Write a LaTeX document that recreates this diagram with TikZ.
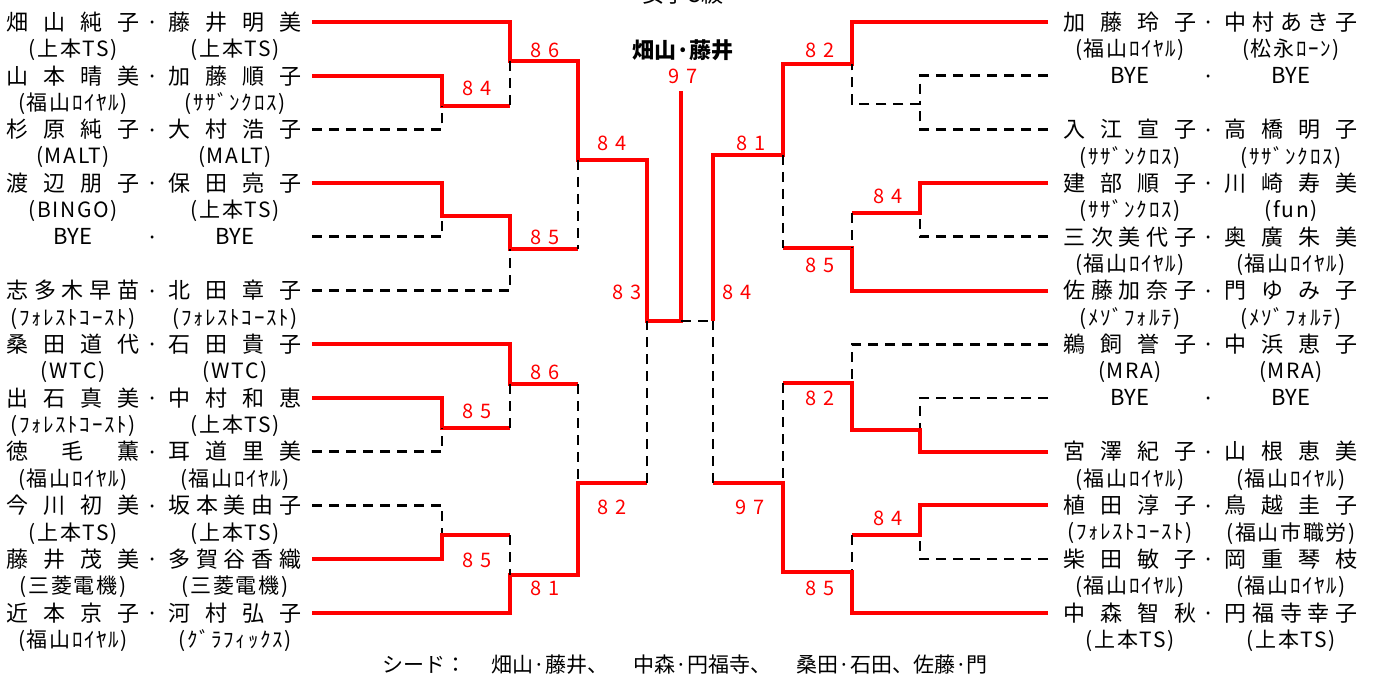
\documentclass[tikz,border=0pt]{standalone}
\usepackage{fontspec}
\setmainfont{Noto Sans CJK JP}
\newcommand\nmfont{\fontsize{22}{24}\selectfont}
\newcommand\affont{\fontsize{21}{23}\selectfont\addfontfeature{LetterSpace=8}}
\newcommand\scfont{\fontsize{20}{22}\selectfont}
\newcommand\spread[1]{\makebox[133pt][s]{#1}}

\begin{document}
\begin{tikzpicture}[x=1pt,y=-1pt,
  nm/.style={font=\nmfont,inner sep=0pt},
  sepdot/.style={font=\nmfont,inner sep=0pt,yshift=-4pt},
  aff/.style={font=\affont,inner sep=0pt},
  sc/.style={font=\scfont,text=red,inner sep=0pt},
  win/.style={red,line width=4pt},
  lose/.style={black,line width=2.8pt,dash pattern=on 10pt off 7pt}]
\useasboundingbox (0,0) rectangle (1375,679);
% 見出し
\node[nm] (title) at (683,-6) {女子C級};
\node[nm,font=\nmfont\bfseries] (champ) at (683,50) {畑山·藤井};
% 左ブロック
\foreach \r/\na/\nb/\ca/\cb in {
  1/畑 山 純 子/藤 井 明 美/(上本TS)/(上本TS),
  2/山 本 晴 美/加 藤 順 子/(福山ﾛｲﾔﾙ)/(ｻｻﾞﾝｸﾛｽ),
  3/杉 原 純 子/大 村 浩 子/(MALT)/(MALT),
  4/渡 辺 朋 子/保 田 亮 子/(BINGO)/(上本TS),
  6/志 多 木 早 苗/北 田 章 子/(ﾌｫﾚｽﾄｺｰｽﾄ)/(ﾌｫﾚｽﾄｺｰｽﾄ),
  7/桑 田 道 代/石 田 貴 子/(WTC)/(WTC),
  8/出 石 真 美/中 村 和 恵/(ﾌｫﾚｽﾄｺｰｽﾄ)/(上本TS),
  9/徳 毛 薫/耳 道 里 美/(福山ﾛｲﾔﾙ)/(福山ﾛｲﾔﾙ),
  10/今 川 初 美/坂 本 美 由 子/(上本TS)/(上本TS),
  11/藤 井 茂 美/多 賀 谷 香 織/(三菱電機)/(三菱電機),
  12/近 本 京 子/河 村 弘 子/(福山ﾛｲﾔﾙ)/(ｸﾞﾗﾌｨｯｸｽ)}{
  \pgfmathsetmacro\yy{22+53.7*(\r-1)}
  \node[nm] (la\r) at (73,\yy) {\spread{\na}};
  \node[sepdot] (ldot\r) at (153,\yy) {·};
  \node[nm] (lb\r) at (235,\yy) {\spread{\nb}};
  \node[aff] (lca\r) at (73,\yy+28) {\ca};
  \node[aff] (lcb\r) at (235,\yy+28) {\cb};
}
\node[nm] (la5) at (73,236.8) {BYE};
\node[sepdot] (ldot5) at (153,236.8) {·};
\node[nm] (lb5) at (235,236.8) {BYE};
% 右ブロック
\foreach \r/\na/\nb/\ca/\cb in {
  1/加 藤 玲 子/中 村 あ き 子/(福山ﾛｲﾔﾙ)/(松永ﾛｰﾝ),
  3/入 江 宣 子/高 橋 明 子/(ｻｻﾞﾝｸﾛｽ)/(ｻｻﾞﾝｸﾛｽ),
  4/建 部 順 子/川 崎 寿 美/(ｻｻﾞﾝｸﾛｽ)/(fun),
  5/三 次 美 代 子/奥 廣 朱 美/(福山ﾛｲﾔﾙ)/(福山ﾛｲﾔﾙ),
  6/佐 藤 加 奈 子/門 ゆ み 子/(ﾒｿﾞﾌｫﾙﾃ)/(ﾒｿﾞﾌｫﾙﾃ),
  7/鵜 飼 誉 子/中 浜 恵 子/(MRA)/(MRA),
  9/宮 澤 紀 子/山 根 恵 美/(福山ﾛｲﾔﾙ)/(福山ﾛｲﾔﾙ),
  10/植 田 淳 子/鳥 越 圭 子/(ﾌｫﾚｽﾄｺｰｽﾄ)/(福山市職労),
  11/柴 田 敏 子/岡 重 琴 枝/(福山ﾛｲﾔﾙ)/(福山ﾛｲﾔﾙ),
  12/中 森 智 秋/円 福 寺 幸 子/(上本TS)/(上本TS)}{
  \pgfmathsetmacro\yy{22+53.7*(\r-1)}
  \node[nm] (ra\r) at (1130,\yy) {\spread{\na}};
  \node[sepdot] (rdot\r) at (1209,\yy) {·};
  \node[nm] (rb\r) at (1291,\yy) {\spread{\nb}};
  \node[aff] (rca\r) at (1130,\yy+28) {\ca};
  \node[aff] (rcb\r) at (1291,\yy+28) {\cb};
}
\foreach \r in {2,8}{
  \pgfmathsetmacro\yy{22+53.7*(\r-1)}
  \node[nm] (ra\r) at (1130,\yy) {BYE};
  \node[sepdot] (rdot\r) at (1209,\yy) {·};
  \node[nm] (rb\r) at (1291,\yy) {BYE};
}
% 線の起点
\foreach \r in {1,...,12}{
  \pgfmathsetmacro\yy{22+53.7*(\r-1)}
  \coordinate (L\r) at (312,\yy);
  \coordinate (R\r) at (1048,\yy);
}
% 左上
\draw[win] (L1) -| (510,61) -- (578,61) -- (578,160) -- (647,160) -- (647,321) -- (681,321) -- (681,91);
\draw[win] (L2) -| (442,106) -- (510,106);
\draw[lose] (L3) -| (442,106);
\draw[lose] (510,61) -- (510,106);
\draw[win] (L4) -| (442,216) -- (510,216) -- (510,249) -- (578,249);
\draw[lose] (L5) -| (442,216);
\draw[lose] (L6) -| (510,249);
\draw[lose] (578,160) -- (578,249);
% 左下
\draw[win] (L7) -| (510,384) -- (578,384);
\draw[win] (L8) -| (442,428) -- (510,428);
\draw[lose] (L9) -| (442,428);
\draw[lose] (510,384) -- (510,428);
\draw[lose] (L10) -| (442,535);
\draw[win] (L11) -| (442,535) -- (510,535);
\draw[win] (L12) -| (510,575) -- (578,575) -- (578,483) -- (647,483);
\draw[lose] (510,535) -- (510,575);
\draw[lose] (578,384) -- (578,483);
\draw[lose] (647,483) -- (647,321);
\draw[lose] (681,321) -- (713,321);
% 右上
\draw[win] (R1) -| (852,64) -- (783,64) -- (783,155) -- (713,155) -- (713,321);
\draw[lose] (R2) -| (920,104);
\draw[lose] (R3) -| (920,104) -- (852,104) -- (852,64);
\draw[win] (R4) -| (920,213) -- (852,213);
\draw[lose] (R5) -| (920,213);
\draw[win] (R6) -| (852,248) -- (783,248);
\draw[lose] (852,213) -- (852,248);
\draw[lose] (783,155) -- (783,248);
% 右下
\draw[lose] (R7) -| (852,383);
\draw[lose] (R8) -| (920,430);
\draw[win] (R9) -| (920,430) -- (852,430) -- (852,383) -- (783,383);
\draw[win] (R10) -| (920,535) -- (852,535);
\draw[lose] (R11) -| (920,535);
\draw[lose] (852,535) -- (852,572);
\draw[win] (R12) -| (852,572) -- (783,572) -- (783,483) -- (713,483);
\draw[lose] (783,383) -- (783,483);
\draw[lose] (713,483) -- (713,321);
% スコア
\foreach \x/\y/\a/\b [count=\k] in {545/50/8/6, 477/88/8/4, 545/237/8/5, 612/143/8/4,
  627/292/8/3, 683/76/9/7, 545/372/8/6, 477/411/8/5, 612/507/8/2, 477/560/8/5,
  545/588/8/1, 820/50/8/2, 751/143/8/1, 888/196/8/4, 820/265/8/5, 737/292/8/4,
  820/398/8/2, 888/518/8/4, 750/507/9/7, 820/588/8/5}
  \node[sc] (sc\k) at (\x,\y) {\a\hspace{6pt}\b};
% シード
\node[font=\fontsize{21}{23}\selectfont,inner sep=0pt] (seeds) at (685,665)
  {シード：\hspace{1.2em}畑山·藤井、\hspace{1.2em}中森·円福寺、\hspace{1.2em}桑田·石田、佐藤·門};
\end{tikzpicture}
\end{document}
